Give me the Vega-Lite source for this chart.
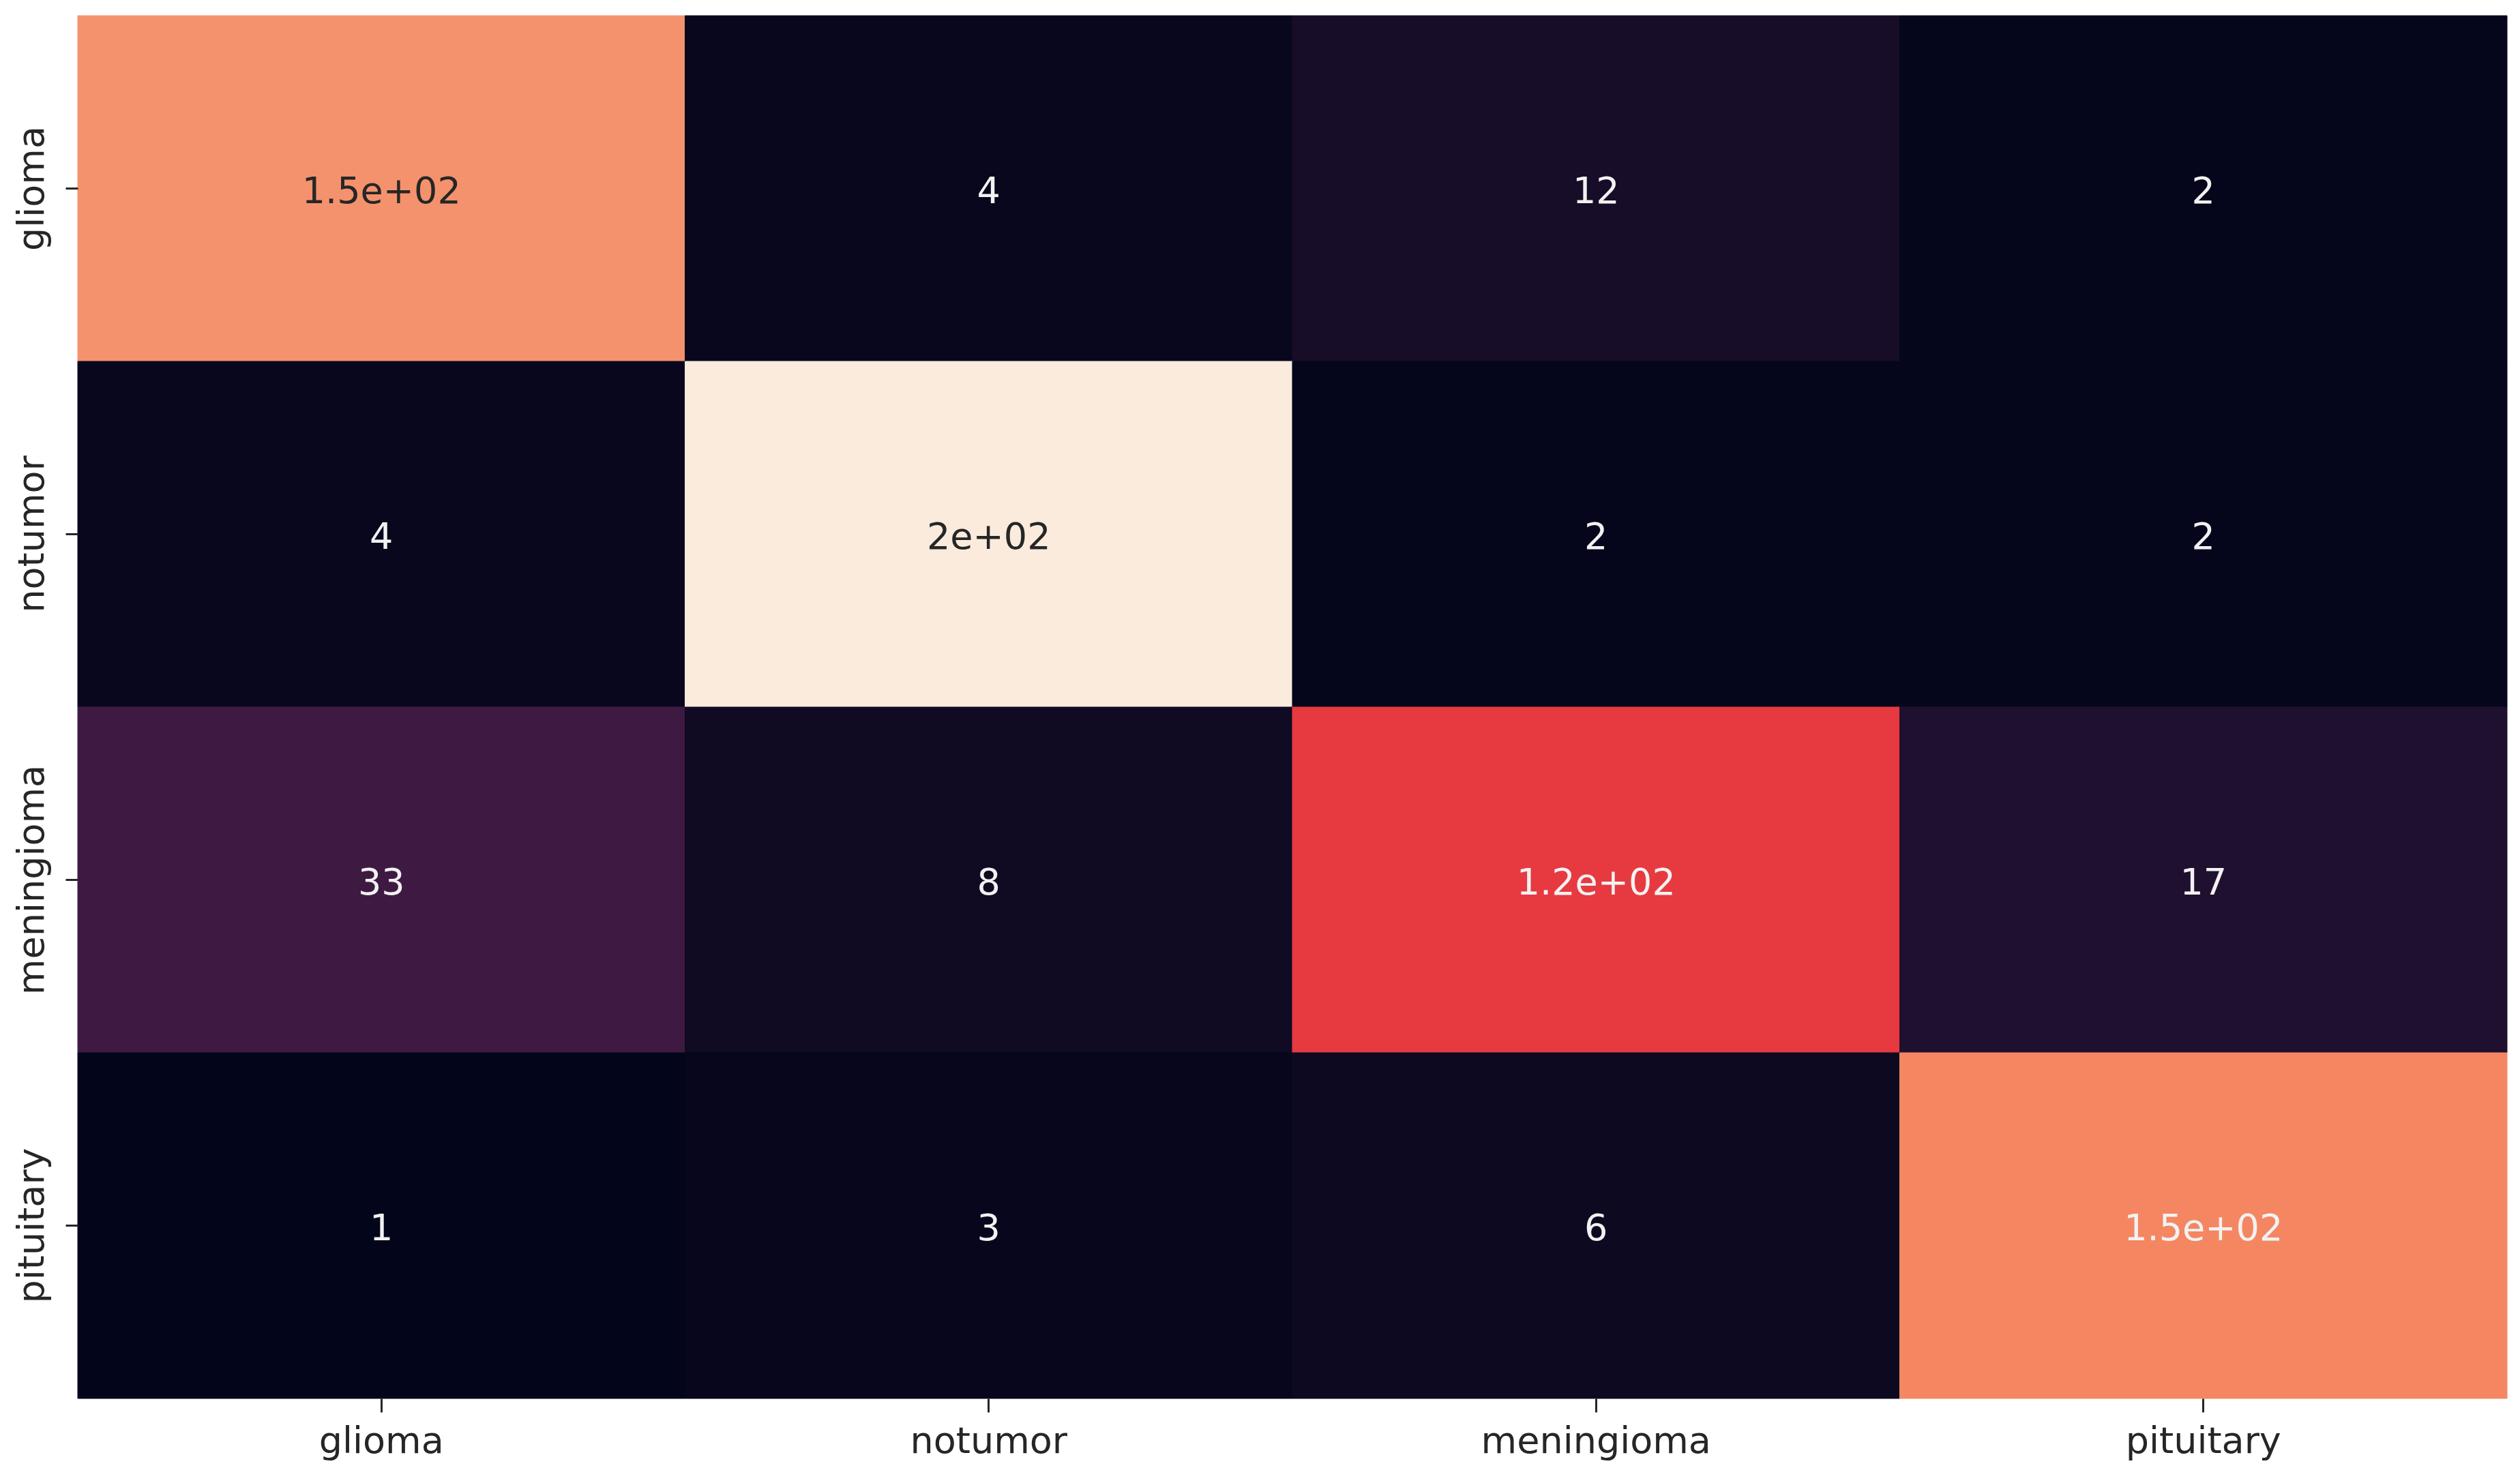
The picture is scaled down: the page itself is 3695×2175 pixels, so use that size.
{
  "$schema": "https://vega.github.io/schema/vega-lite/v6.json",
  "autosize": {"type": "none"},
  "padding": {"left": 114, "top": 23, "right": 19, "bottom": 124},
  "width": 3562,
  "height": 2028,
  "background": "white",
  "config": {"view": {"stroke": null}, "font": "DejaVu Sans"},
  "data": {
    "values": [
      {"actual": "glioma", "predicted": "glioma", "value": 153, "label": "1.5e+02"},
      {"actual": "glioma", "predicted": "notumor", "value": 4, "label": "4"},
      {"actual": "glioma", "predicted": "meningioma", "value": 12, "label": "12"},
      {"actual": "glioma", "predicted": "pituitary", "value": 2, "label": "2"},
      {"actual": "notumor", "predicted": "glioma", "value": 4, "label": "4"},
      {"actual": "notumor", "predicted": "notumor", "value": 196, "label": "2e+02"},
      {"actual": "notumor", "predicted": "meningioma", "value": 2, "label": "2"},
      {"actual": "notumor", "predicted": "pituitary", "value": 2, "label": "2"},
      {"actual": "meningioma", "predicted": "glioma", "value": 33, "label": "33"},
      {"actual": "meningioma", "predicted": "notumor", "value": 8, "label": "8"},
      {"actual": "meningioma", "predicted": "meningioma", "value": 120, "label": "1.2e+02"},
      {"actual": "meningioma", "predicted": "pituitary", "value": 17, "label": "17"},
      {"actual": "pituitary", "predicted": "glioma", "value": 1, "label": "1"},
      {"actual": "pituitary", "predicted": "notumor", "value": 3, "label": "3"},
      {"actual": "pituitary", "predicted": "meningioma", "value": 6, "label": "6"},
      {"actual": "pituitary", "predicted": "pituitary", "value": 148, "label": "1.5e+02"}
    ]
  },
  "encoding": {
    "x": {
      "field": "predicted", "type": "nominal",
      "sort": ["glioma", "notumor", "meningioma", "pituitary"],
      "scale": {"paddingInner": 0, "paddingOuter": 0},
      "axis": {
        "title": null, "orient": "bottom", "domain": false, "grid": false,
        "ticks": true, "tickSize": 20, "tickWidth": 3, "tickColor": "#262626",
        "labelAngle": 0, "labelFontSize": 54, "labelFont": "DejaVu Sans",
        "labelColor": "#262626", "labelPadding": 16, "labelLimit": 0
      }
    },
    "y": {
      "field": "actual", "type": "nominal",
      "sort": ["glioma", "notumor", "meningioma", "pituitary"],
      "scale": {"paddingInner": 0, "paddingOuter": 0},
      "axis": {
        "title": null, "orient": "left", "domain": false, "grid": false,
        "ticks": true, "tickSize": 18, "tickWidth": 3, "tickColor": "#262626",
        "labelAngle": -90, "labelAlign": "center", "labelBaseline": "bottom",
        "labelFontSize": 54, "labelFont": "DejaVu Sans",
        "labelColor": "#262626", "labelPadding": 22, "labelLimit": 0
      }
    }
  },
  "layer": [
    {
      "mark": {"type": "rect", "strokeWidth": 1},
      "encoding": {
        "fill": {
          "field": "value", "type": "quantitative", "legend": null,
          "scale": {
            "type": "linear",
            "domain": [1, 28.857, 56.714, 84.571, 112.43, 120, 140.29, 168.14, 196],
            "range": ["#03051A", "#35193E", "#701F57", "#AD1759", "#E13342", "#E63A40", "#F37651", "#F6B48F", "#FAEBDD"],
            "interpolate": "rgb"
          }
        },
        "stroke": {
          "field": "value", "type": "quantitative", "legend": null,
          "scale": {
            "type": "linear",
            "domain": [1, 28.857, 56.714, 84.571, 112.43, 120, 140.29, 168.14, 196],
            "range": ["#03051A", "#35193E", "#701F57", "#AD1759", "#E13342", "#E63A40", "#F37651", "#F6B48F", "#FAEBDD"],
            "interpolate": "rgb"
          }
        }
      }
    },
    {
      "mark": {"type": "text", "fontSize": 54, "font": "DejaVu Sans", "align": "center", "baseline": "middle", "dy": 5},
      "encoding": {
        "text": {"field": "label", "type": "nominal"},
        "color": {
          "condition": {"test": "datum.value >= 150", "value": "#262626"},
          "value": "#F2F2F2"
        }
      }
    }
  ]
}
